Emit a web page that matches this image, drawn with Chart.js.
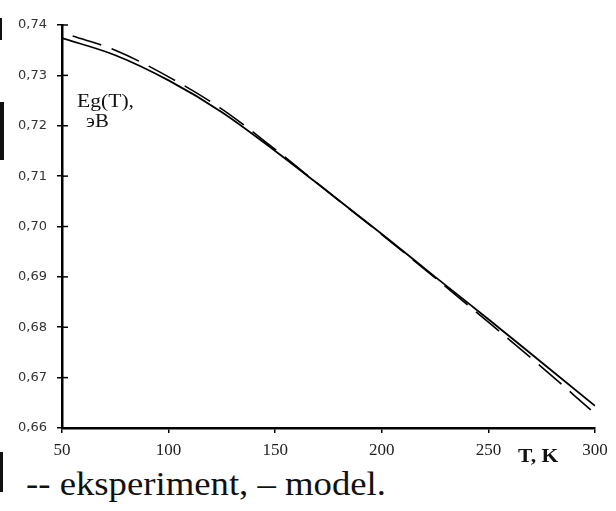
<!DOCTYPE html>
<html>
<head>
<meta charset="utf-8">
<script src="https://cdn.jsdelivr.net/npm/chart.js@4.4.0/dist/chart.umd.min.js"></script>
<style>
  body { margin: 0; background: #fff; }
  #wrap { position: relative; width: 616px; height: 511px; overflow: hidden; }
  #box { position: absolute; left: 0; top: 0; width: 616px; height: 465px; }
  .lbl { position: absolute; font-family: "Liberation Serif", "Times New Roman", serif; color: #111;
         white-space: nowrap; transform-origin: left top; line-height: normal; }
  .scan { position: absolute; left: 0; background: #111; }
</style>
</head>
<body>
<div id="wrap">
  <div id="box"><canvas id="chart"></canvas></div>
  <div class="lbl" style="left:77px; top:91px; font-size:18px; transform:scaleX(1.2);">Eg(T),</div>
  <div class="lbl" style="left:86px; top:111px; font-size:18px; transform:scaleX(1.15);">эВ</div>
  <div class="lbl" style="left:518px; top:446px; font-size:18px; font-weight:bold; transform:scaleX(1.2);">T, K</div>
  <div class="lbl" style="left:26px; top:465px; font-size:34px; transform:scaleX(1.08);">-- eksperiment, – model.</div>
  <div class="scan" style="top:18px; width:2px; height:22px;"></div>
  <div class="scan" style="top:102px; width:4px; height:58px;"></div>
  <div class="scan" style="top:452px; width:3px; height:40px;"></div>
</div>
<script>
// temperature, K
const modelT = [50, 75, 100, 125, 150, 175, 200, 225, 250, 275, 300]
// model band gap, eV (solid line)
const modelEg = [0.7374, 0.7340, 0.7290, 0.7227, 0.7150, 0.7068, 0.6985, 0.6900, 0.6816, 0.6730, 0.6644]
// experiment (dashed line)
const expT = [55, 75, 100, 125, 150, 175, 200, 225, 250, 275, 298]
const expEg = [0.7378, 0.7350, 0.7297, 0.7233, 0.7153, 0.7068, 0.6984, 0.6898, 0.6810, 0.6721, 0.6636]

const xTicks = [50, 100, 150, 200, 250, 300]
const yTicks = [0.66, 0.67, 0.68, 0.69, 0.70, 0.71, 0.72, 0.73, 0.74]

// little tick marks on the inner side of the y axis
const innerTicks = {
  id: 'innerTicks',
  afterDraw(chart) {
    const ctx = chart.ctx
    const y = chart.scales.y
    ctx.save()
    ctx.strokeStyle = '#000'
    ctx.lineWidth = 1.5
    yTicks.forEach(v => {
      const py = y.getPixelForValue(v)
      ctx.beginPath()
      ctx.moveTo(y.right, py)
      ctx.lineTo(y.right + 6, py)
      ctx.stroke()
    })
    ctx.restore()
  }
}

const toXY = (xs, ys) => xs.map((x, i) => ({x: x, y: ys[i]}))

new Chart(document.getElementById('chart'), {
  type: 'line',
  data: {
    datasets: [
      {
        label: 'model',
        data: toXY(modelT, modelEg),
        borderColor: '#000',
        borderWidth: 1.8,
        pointRadius: 0,
        cubicInterpolationMode: 'monotone'
      },
      {
        label: 'eksperiment',
        data: toXY(expT, expEg),
        borderColor: '#000',
        borderWidth: 1.6,
        borderDash: [30, 11],
        pointRadius: 0,
        cubicInterpolationMode: 'monotone'
      }
    ]
  },
  options: {
    responsive: true,
    maintainAspectRatio: false,
    animation: false,
    layout: { padding: { left: 0, right: 21, top: 25, bottom: 0 } },
    plugins: { legend: { display: false }, tooltip: { enabled: false } },
    scales: {
      x: {
        type: 'linear',
        min: 50,
        max: 300,
        afterFit: s => { s.height = 37 },
        afterBuildTicks: s => { s.ticks = xTicks.map(v => ({value: v})) },
        grid: { drawOnChartArea: false, tickLength: 5, color: '#000', lineWidth: 1.5 },
        border: { color: '#000', width: 2.5 },
        ticks: {
          padding: 7,
          color: '#222',
          font: { family: '"Liberation Serif", serif', size: 17 }
        }
      },
      y: {
        min: 0.66,
        max: 0.74,
        afterFit: s => { s.width = 62 },
        afterBuildTicks: s => { s.ticks = yTicks.map(v => ({value: v})) },
        grid: { drawOnChartArea: false, tickLength: 5, color: '#000', lineWidth: 1.5 },
        border: { color: '#000', width: 2.5 },
        ticks: {
          padding: 10,
          color: '#333',
          font: { family: '"DejaVu Sans", sans-serif', size: 13 },
          callback: v => v.toFixed(2).replace('.', ',')
        }
      }
    }
  },
  plugins: [innerTicks]
});
</script>
</body>
</html>
